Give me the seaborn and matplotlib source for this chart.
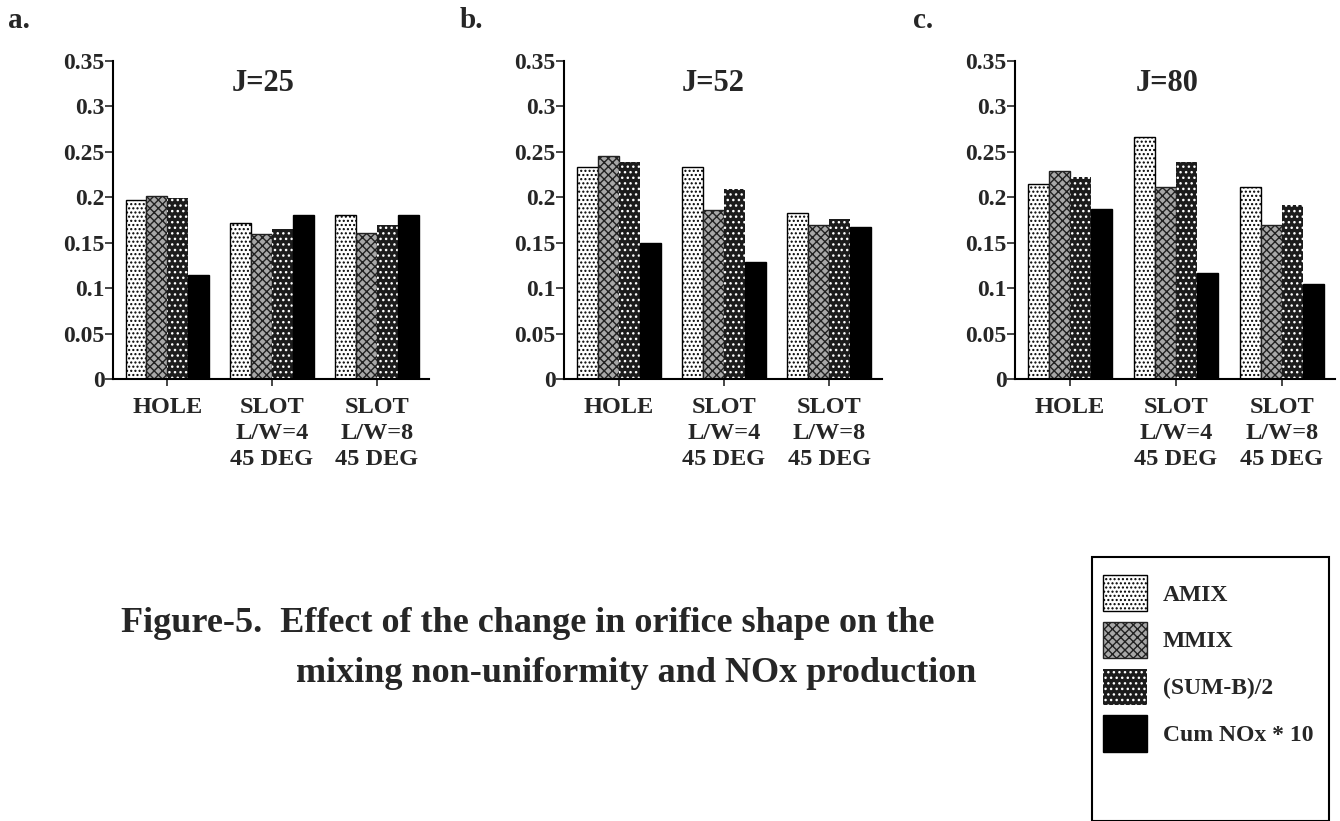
import numpy as np
import pandas as pd
import seaborn as sns
import matplotlib.pyplot as plt
import matplotlib.patches as mpatches

sns.set_style('white')
plt.rcParams['font.family'] = ['Liberation Serif', 'DejaVu Serif']
plt.rcParams['font.weight'] = 'bold'
plt.rcParams['hatch.linewidth'] = 1.0

# orifice shapes and the four measures
shapes = ['HOLE', 'SLOT\nL/W=4\n45 DEG', 'SLOT\nL/W=8\n45 DEG']
series = ['AMIX', 'MMIX', '(SUM-B)/2', 'Cum NOx * 10']

# J=25
amix_j25 = [0.197, 0.172, 0.180]
mmix_j25 = [0.201, 0.160, 0.161]
sumb_j25 = [0.199, 0.165, 0.170]
nox_j25 = [0.114, 0.180, 0.180]
# J=52
amix_j52 = [0.233, 0.233, 0.183]
mmix_j52 = [0.245, 0.186, 0.169]
sumb_j52 = [0.239, 0.209, 0.176]
nox_j52 = [0.150, 0.129, 0.167]
# J=80
amix_j80 = [0.215, 0.266, 0.211]
mmix_j80 = [0.229, 0.211, 0.170]
sumb_j80 = [0.222, 0.239, 0.191]
nox_j80 = [0.187, 0.117, 0.105]

panels = [('a.', 'J=25', [amix_j25, mmix_j25, sumb_j25, nox_j25]),
          ('b.', 'J=52', [amix_j52, mmix_j52, sumb_j52, nox_j52]),
          ('c.', 'J=80', [amix_j80, mmix_j80, sumb_j80, nox_j80])]

yticks = [0, 0.05, 0.1, 0.15, 0.2, 0.25, 0.3, 0.35]
ytick_labels = ['0', '0.05', '0.1', '0.15', '0.2', '0.25', '0.3', '0.35']

# face, hatch colour (edge), hatch, edge width
styles = {'AMIX': ('white', 'black', '....', 1.0),
          'MMIX': ('#a8a8a8', '#222222', 'xxxx', 1.0),
          '(SUM-B)/2': ('#1c1c1c', 'white', '...', 0.0),
          'Cum NOx * 10': ('black', 'black', '', 1.0)}

fig = plt.figure(figsize=(13.4, 8.21), dpi=100)
W, H = 1340, 821
axes_px = [(113, 429), (564, 882), (1015, 1335)]
label_x = [8, 460, 913]
title_x = [0.475, 0.469, 0.475]

for (letter, title, vals), (x0, x1), lx, tx in zip(panels, axes_px, label_x, title_x):
    ax = fig.add_axes([x0 / W, 1 - 379 / H, (x1 - x0) / W, (379 - 61) / H])
    rows = []
    for s, v in zip(series, vals):
        for sh, val in zip(shapes, v):
            rows.append({'shape': sh, 'series': s, 'value': val})
    df = pd.DataFrame(rows)
    sns.barplot(data=df, x='shape', y='value', hue='series', order=shapes,
                hue_order=series, palette=[styles[s][0] for s in series],
                saturation=1, width=0.8, legend=False, ax=ax)
    for cont, s in zip(ax.containers, series):
        face, edge, hatch, lw = styles[s]
        for p in cont:
            p.set_facecolor(face)
            p.set_edgecolor(edge)
            p.set_hatch(hatch)
            p.set_linewidth(lw)
    ax.set_ylim(0, 0.35)
    ax.set_xlim(-0.52, 2.5)
    ax.set_yticks(yticks)
    ax.set_yticklabels(ytick_labels, fontsize=17, fontweight='bold')
    ax.set_xticks(range(len(shapes)))
    ax.set_xticklabels(shapes, fontsize=17.5, fontweight='bold', linespacing=1.3)
    ax.tick_params(axis='y', direction='out', length=6, width=1.2, pad=0, left=True)
    ax.tick_params(axis='x', direction='out', length=5, width=1.2, pad=8, bottom=True)
    ax.set_xlabel('')
    ax.set_ylabel('')
    sns.despine(ax=ax)
    for sp in ['left', 'bottom']:
        ax.spines[sp].set_linewidth(1.5)
        ax.spines[sp].set_color('black')
    ax.text(tx, 0.93, title, transform=ax.transAxes, ha='center', va='center',
            fontsize=22, fontweight='bold')
    fig.text(lx / W, 1 - 20 / H, letter, ha='left', va='center',
             fontsize=21, fontweight='bold')

# caption
fig.text(121 / W, 1 - 623 / H, 'Figure-5.  Effect of the change in orifice shape on the',
         ha='left', va='center', fontsize=26, fontweight='bold')
fig.text(296 / W, 1 - 673 / H, 'mixing non-uniformity and NOx production',
         ha='left', va='center', fontsize=26, fontweight='bold')

# legend box
fig.patches.append(mpatches.Rectangle((1092 / W, 0), (1329 - 1092) / W, 1 - 557 / H,
                                      transform=fig.transFigure, fill=False,
                                      edgecolor='black', linewidth=1.5))
handles = []
for s in series:
    face, edge, hatch, lw = styles[s]
    handles.append(mpatches.Patch(facecolor=face, edgecolor=edge, hatch=hatch,
                                  linewidth=lw, label=s))
fig.legend(handles=handles, loc='upper left', bbox_to_anchor=(1091 / W, 1 - 563 / H),
           frameon=False, handlelength=1.86, handleheight=2.0,
           labelspacing=0.44, handletextpad=0.68, borderpad=0,
           prop={'weight': 'bold', 'size': 17})

fig.savefig('out.png', dpi=100)
